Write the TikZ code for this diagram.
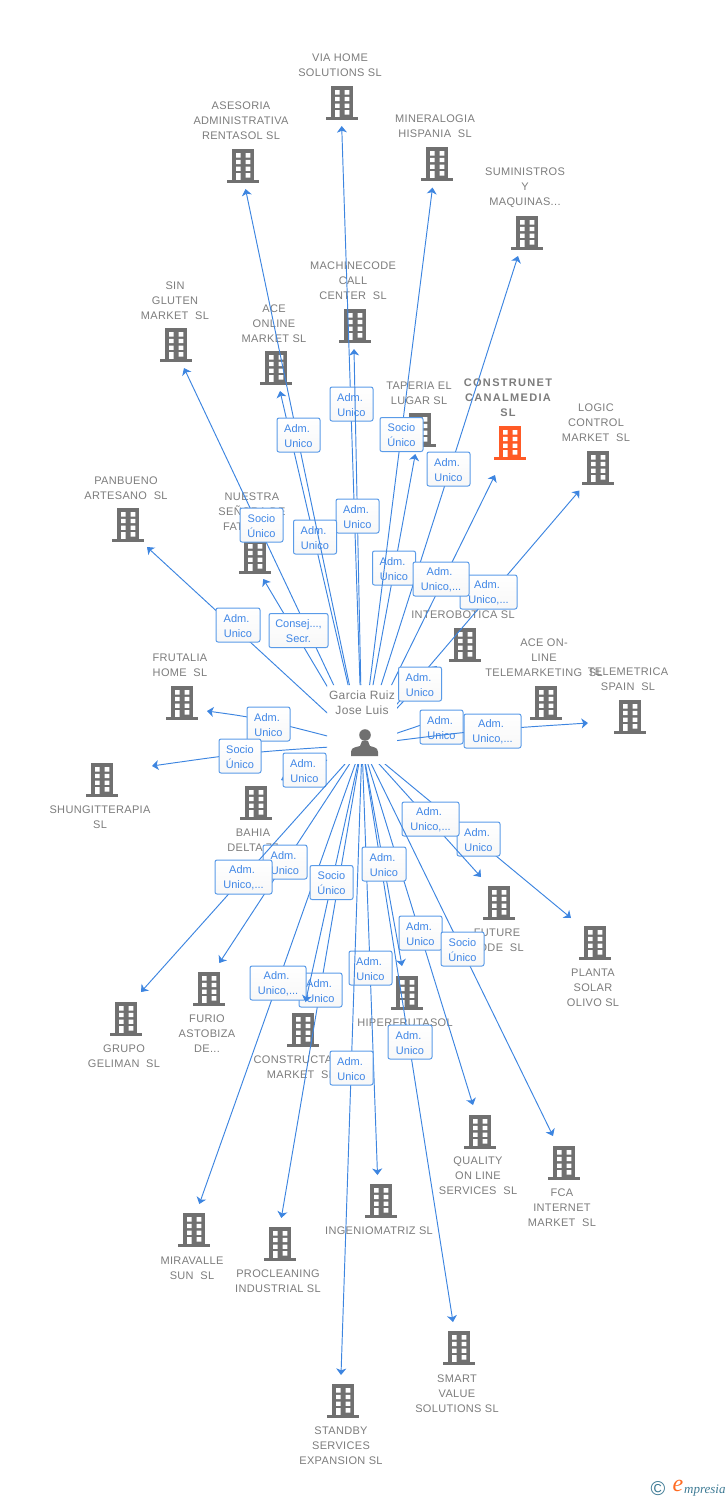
\documentclass[tikz,border=0pt]{standalone}
\usepackage{fontspec}
\setmainfont{Liberation Sans}
\newfontfamily\lblfont[LetterSpace=3]{Liberation Sans}
\newfontfamily\mainbold[LetterSpace=12]{Liberation Sans Bold}
\newfontfamily\serifit{Liberation Serif Italic}
\usetikzlibrary{arrows.meta}
\definecolor{lnkblue}{HTML}{3D85E0}
\definecolor{boxblue}{HTML}{5A9BE8}
\definecolor{boxtxt}{HTML}{3F86E6}
\definecolor{bgray}{HTML}{707070}
\definecolor{tgray}{HTML}{7C7C7C}
\definecolor{orng}{HTML}{FF5A26}
\definecolor{teal2}{HTML}{3D7A94}
\tikzset{
 lnk/.style={draw=lnkblue,line width=0.95pt,-{Stealth[length=6.5pt,width=10pt,inset=1.8pt]}},
 tagbox/.style={draw=boxblue,line width=1pt,rounded corners=2pt,top color=white,bottom color=black!3,
   minimum height=34pt,inner sep=0pt,align=center,text=boxtxt,font=\fontsize{11}{15}\selectfont},
 bldlabel/.style={text=tgray,align=center,inner sep=0pt,yshift=-1pt,font=\lblfont\fontsize{11}{15}\selectfont},
 iconbox/.style={minimum width=32pt,minimum height=34pt,inner sep=0pt},
}
\newcommand{\bicon}[4]{%
 \node[iconbox] (#1) at (#2,#3) {};
 \begin{scope}[shift={(#2,#3)}]
  \fill[#4] (-11.3,-17) rectangle (11.3,14.5);
  \fill[#4] (-16,13.8) rectangle (16,17);
  \fill[white] (-7,-12.8) rectangle (-2.3,-8.5) (2.7,-12.8) rectangle (7.3,-8.5)
               (-7,-6.2) rectangle (-2.3,-1.8) (2.7,-6.2) rectangle (7.3,-1.8)
               (-7,0.5) rectangle (-2.3,4.8) (2.7,0.5) rectangle (7.3,4.8)
               (-7,7.2) rectangle (-2.3,13.8) (2.7,7.2) rectangle (7.3,11.5);
 \end{scope}}
\newcommand{\bld}[6][bgray]{%
 \bicon{i#2}{#3}{#4}{#1}
 \node[bldlabel] (l#2) at (#5) {#6};}
\newcommand{\lnkS}[5]{%
 \coordinate (t#1) at (#2);
 \draw[lnk] (person.center) -- (t#1);
 \node[tagbox,minimum width=#4pt] (b#1) at (#3) {#5};}
\newcommand{\lnkC}[6]{%
 \coordinate (t#1) at (#2);
 \coordinate (c#1) at (#6);
 \draw[lnk] (person.center) .. controls (c#1) .. (t#1);
 \node[tagbox,minimum width=#4pt] (b#1) at (#3) {#5};}
\newcommand{\tstr}{\rule{0pt}{10pt}}
\newcommand{\AU}{\tstr Adm.\kern3pt\\Unico}
\newcommand{\AUw}{\tstr Adm.\kern3pt\\Unico,...}
\newcommand{\SU}{\tstr Socio\\Único}
\begin{document}
\begin{tikzpicture}[x=1pt,y=-1pt]
\useasboundingbox (0,0) rectangle (728,1500);
% companies
\bld{via}{342}{103}{340,64.5}{VIA HOME\\SOLUTIONS SL}
\bld{ases}{243}{166}{241,120}{ASESORIA\\ADMINISTRATIVA\\RENTASOL SL}
\bld{mine}{437}{164}{435,125.5}{MINERALOGIA\\HISPANIA~~SL}
\bld{sumi}{527}{233}{525,187}{SUMINISTROS\\Y\\MAQUINAS...}
\bld{mach}{355}{326}{353,280}{MACHINECODE\\CALL\\CENTER~~SL}
\bld{sing}{176}{345}{175,300}{SIN\\GLUTEN\\MARKET~~SL}
\bld{aceo}{276}{368}{274,323}{ACE\\ONLINE\\MARKET SL}
\bld{tape}{420}{430}{419,392.5}{TAPERIA EL\\LUGAR SL}
\bicon{icons}{510}{443}{orng}
\node[bldlabel,font=\mainbold\fontsize{11}{15}\selectfont] (lcons) at (508,397) {CONSTRUNET\\CANALMEDIA\\SL};
\bld{logi}{598}{468}{596,422}{LOGIC\\CONTROL\\MARKET~~SL}
\bld{panb}{128}{525}{126,487.5}{PANBUENO\\ARTESANO~~SL}
\bld{nues}{255}{557}{252,511}{NUESTRA\\SEÑORA DE\\FATIMA SL}
\bld{inte}{465}{645}{463,614}{INTEROBOTICA SL}
\bld{acel}{546}{703}{544,657}{ACE ON-\\LINE\\TELEMARKETING~~SL}
\bld{tele}{630}{717}{628,678.5}{TELEMETRICA\\SPAIN~~SL}
\bld{frut}{182}{703}{180,664.5}{FRUTALIA\\HOME~~SL}
\bld{shun}{102}{780}{100,816.5}{SHUNGITTERAPIA\\SL}
\bld{bahi}{256}{803}{253,839.5}{BAHIA\\DELTA 77}
\bld{futu}{499}{903}{497,939.5}{FUTURE\\CODE~~SL}
\bld{plan}{595}{943}{593,987}{PLANTA\\SOLAR\\OLIVO SL}
\bld{furi}{209}{989}{207,1033}{FURIO\\ASTOBIZA\\DE...}
\bld{grup}{126}{1019}{124,1055.5}{GRUPO\\GELIMAN~~SL}
\bld{hipe}{407}{993}{405,1022}{HIPERFRUTASOL}
\bld{cons}{303}{1030}{301,1066.5}{CONSTRUCTA\kern16pt\\MARKET~~SL}
\bld{qual}{480}{1132}{478,1175}{QUALITY\\ON LINE\\SERVICES~~SL}
\bld{fcai}{564}{1163}{562,1207}{FCA\\INTERNET\\MARKET~~SL}
\bld{inge}{381}{1201}{379,1230}{INGENIOMATRIZ SL}
\bld{mira}{194}{1230}{192,1267.5}{MIRAVALLE\\SUN~~SL}
\bld{proc}{280}{1244}{278,1280.5}{PROCLEANING\\INDUSTRIAL SL}
\bld{smar}{459}{1348}{457,1393}{SMART\\VALUE\\SOLUTIONS SL}
\bld{stan}{343}{1401}{341,1445}{STANDBY\\SERVICES\\EXPANSION SL}
% owner
\node[inner sep=0pt,minimum size=0pt] (person) at (362,745) {};
\begin{scope}[even odd rule]
 \clip (0,0) rectangle (728,1500) (327,685) rectangle (397,764);
 \lnkS{via}{341.7,126}{351.5,404}{43}{\AU}
 \lnkS{mach}{354,349}{357.5,516}{43}{\AU}
 \lnkS{aceo}{280,391}{315,537}{43}{\AU}
 \lnkS{ases}{245.5,189}{298.5,435}{43}{\AU}
 \lnkS{tape}{415.3,454}{394,568}{43}{\AU}
 \lnkS{mine}{432.5,187.5}{401.5,434.5}{43}{\SU}
 \lnkS{sumi}{518,256}{448.5,469}{43}{\AU}
 \lnkS{logi}{579.5,490.5}{488.5,592}{57}{\AUw}
 \lnkS{cons}{495,475}{441,579}{56}{\AUw}
 \lnkS{inte}{437,666}{420,684}{43}{\AU}
 \lnkS{sing}{184,368}{261.5,525}{43}{\SU}
 \lnkS{panb}{147,547}{238,625}{44}{\AU}
 \lnkS{nues}{263.3,579}{298.5,630.5}{59}{\tstr Consej...,\\Secr.}
 \lnkC{frut}{207,711}{268.5,724}{43}{\AU}{258,718}
 \lnkC{shun}{152,766}{240,756}{42}{\SU}{250,752}
 \lnkS{bahi}{281,780}{304.5,770}{43}{\AU}
 \lnkS{plan}{571,918}{478.5,839}{43}{\AU}
 \lnkS{futu}{481,877}{430.5,819}{57}{\AUw}
 \lnkS{furi}{219.3,963}{285,862}{44}{\AU}
 \lnkS{grup}{141,992}{243.5,877}{57}{\AUw}
 \lnkS{proc}{281.3,1218}{320.5,990}{43}{\AU}
 \lnkS{mira}{199.3,1204}{278,983}{56}{\AUw}
 \lnkS{cnst}{305.5,1002}{331.5,882.5}{43}{\SU}
 \lnkS{inge}{377.5,1175}{370.5,968}{43}{\AU}
 \lnkS{stan}{341,1375}{351.5,1068}{43}{\AU}
 \lnkS{smar}{453,1322}{410,1042}{44}{\AU}
 \lnkS{qual}{473,1105}{420.5,933}{43}{\AU}
 \lnkS{hipe}{402,966}{384,864}{44}{\AU}
 \lnkS{fcai}{553,1136}{462.5,949}{43}{\SU}
 \lnkS{acel}{430,722}{441.5,727}{43}{\AU}
 \lnkC{tele}{588,723}{492.5,731}{57}{\AUw}{480,730}
\end{scope}
\node[text=tgray,align=center,inner sep=0pt,yshift=-1pt,font=\lblfont\fontsize{12}{15}\selectfont] (lperson) at (362,702) {Garcia Ruiz\\Jose Luis};
\fill[bgray] (365,735) circle (5.8);
\fill[bgray] (351,756) -- (351,752) .. controls (352,748) .. (360,746) -- (362,741) -- (368,741) -- (370,746) .. controls (377,748) .. (378,752) -- (378,756) -- cycle;
% logo
\node[text=teal2,inner sep=0pt,font=\fontsize{20}{20}\selectfont] (copyr) at (658,1489) {©};
\node[text=orng!90!yellow,inner sep=0pt,font=\serifit\fontsize{24}{24}\selectfont] (logoe) at (678,1486) {e};
\node[text=teal2,inner sep=0pt,anchor=base west,font=\serifit\fontsize{13}{13}\selectfont] (logot) at (684,1493) {mpresia};
\end{tikzpicture}
\end{document}
